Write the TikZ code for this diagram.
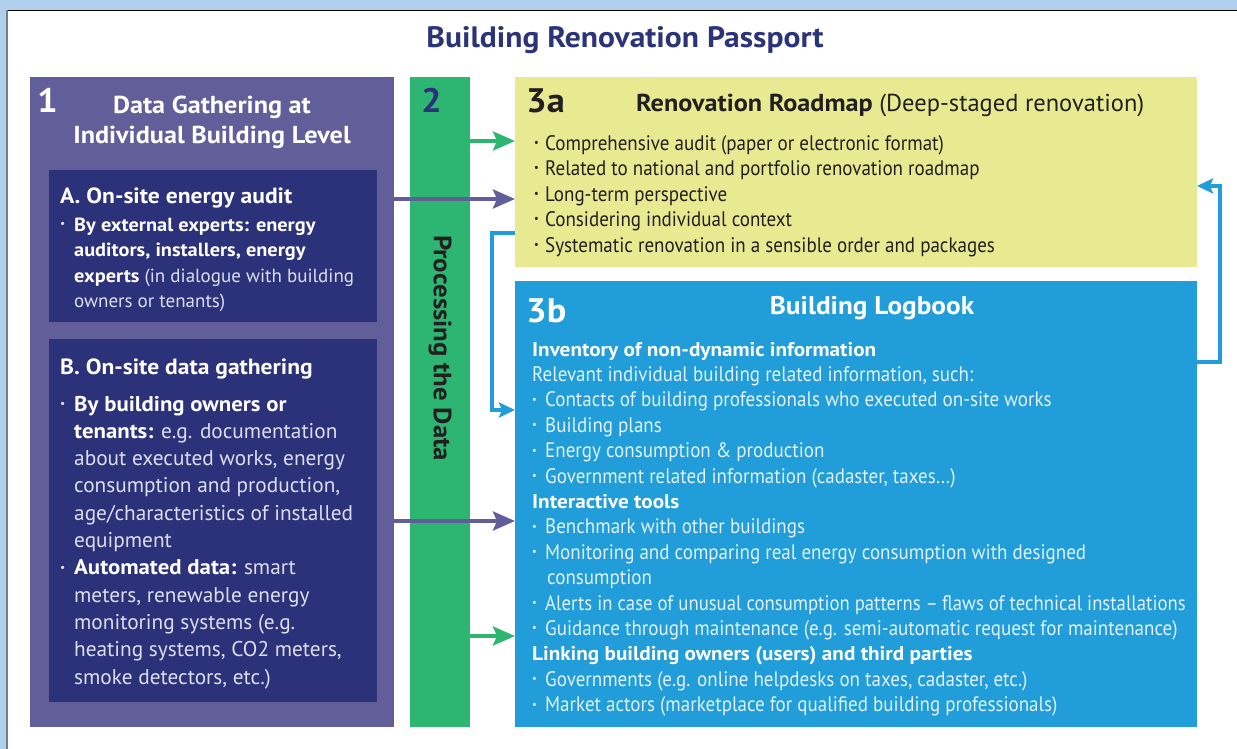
\documentclass[tikz,border=0pt]{standalone}
\usepackage{fontspec}
\setmainfont{PT Sans}[BoldFeatures={FakeStretch=1.07}]
\newfontfamily\condfont{PT Sans}[FakeStretch=0.905]
\usetikzlibrary{arrows.meta}

\definecolor{skyband}{HTML}{AFCFEC}
\definecolor{edgegray}{HTML}{6E7F91}
\definecolor{gatherpurple}{HTML}{625E9A}
\definecolor{auditnavy}{HTML}{2C327A}
\definecolor{procgreen}{HTML}{2DB572}
\definecolor{roadyellow}{HTML}{E8EA92}
\definecolor{logblue}{HTML}{219DD9}
\definecolor{titlenavy}{HTML}{2B3479}
\definecolor{paletext}{HTML}{DCDEEE}
\definecolor{paleblue}{HTML}{E2F1FA}
\definecolor{inkdark}{HTML}{231F20}

% bullet of a given width, text follows
\newcommand\bitem[1]{\makebox[#1][l]{\raisebox{0.17em}{\fontsize{11.5pt}{11.5pt}\selectfont\textbullet}}}
\newcommand\hl[1]{\textcolor{white}{\bfseries #1}}
% bold sub-heading inside the logbook list
\newcommand\loghead[1]{\textcolor{white}{\rmfamily\bfseries\fontsize{19.8pt}{25.4pt}\selectfont #1}}

\begin{document}
\begin{tikzpicture}[x=1pt,y=-1pt,
  panel/.style={anchor=north west, inner sep=0pt, outer sep=0pt},
  bigdigit/.style={anchor=base west, inner sep=0pt, font=\fontsize{34pt}{34pt}\selectfont\bfseries},
  txtblock/.style={anchor=base west, inner sep=0pt, align=left},
  purplearrow/.style={draw=gatherpurple, line width=4pt, -{Stealth[length=22pt,width=19pt,inset=4pt]}},
  greenarrow/.style={draw=procgreen, line width=4pt, -{Stealth[length=22pt,width=19pt,inset=4pt]}},
  bluelink/.style={draw=logblue, line width=3.5pt, -{Stealth[length=16pt,width=15pt,inset=3pt]}}
]
\useasboundingbox (0,0) rectangle (1237,749);

% page frame
\fill[skyband] (0,0) rectangle (1237,749);
\fill[white] (7,10) rectangle (1237,749);
\draw[black, line width=1.5pt] (6,10.5) -- (1237,10.5);
\draw[edgegray, line width=2pt] (6.5,10) -- (6.5,749);

% title
\node[anchor=base, inner sep=0pt, text=titlenavy, font=\fontsize{29.5pt}{29.5pt}\selectfont\bfseries] (title) at (625,48) {Building Renovation Passport};

% panels
\node[panel, fill=gatherpurple, minimum width=364pt, minimum height=650pt] (gather) at (30,77) {};
\node[panel, fill=auditnavy, minimum width=328pt, minimum height=152pt] (audit) at (49,170) {};
\node[panel, fill=auditnavy, minimum width=328pt, minimum height=363pt] (onsite) at (49,339) {};
\node[panel, fill=procgreen, minimum width=60pt, minimum height=650pt] (process) at (410,77) {};
\node[panel, fill=roadyellow, minimum width=682pt, minimum height=190pt] (roadmap) at (515,77) {};
\node[panel, fill=logblue, minimum width=682pt, minimum height=446pt] (logbook) at (515,281) {};

% panel 1 (multi-line blocks are placed by the baseline of their last line)
\node[bigdigit, text=white] (num1) at (37,113) {1};
\node[anchor=base, inner sep=0pt, align=center, text=white, font=\fontsize{24.5pt}{30pt}\selectfont\bfseries] (head1) at (212,143) {Data Gathering at\\Individual Building Level};

\node[txtblock, text=white, font=\fontsize{22pt}{22pt}\selectfont\bfseries] (headA) at (60,204) {A. On-site energy audit};
\node[txtblock, text=paletext, font=\fontsize{19pt}{25.5pt}\selectfont] (bodyA) at (60,307.5) {%
\bitem{14pt}\hl{By external experts: energy}\\
\hspace*{14pt}\hl{auditors, installers, energy}\\
\hspace*{14pt}\hl{experts} (in dialogue with building\\
\hspace*{14pt}owners or tenants)};

\node[txtblock, text=white, font=\fontsize{22pt}{22pt}\selectfont\bfseries] (headB) at (60,374) {B. On-site data gathering};
\node[txtblock, text=paletext, font=\fontsize{21.3pt}{27.3pt}\selectfont] (bodyB) at (60,684) {%
\bitem{14pt}\hl{By building owners or}\\
\hspace*{14pt}\hl{tenants:} e.g. documentation\\
\hspace*{14pt}about executed works, energy\\
\hspace*{14pt}consumption and production,\\
\hspace*{14pt}age/characteristics of installed\\
\hspace*{14pt}equipment\\
\bitem{14pt}\hl{Automated data:} smart\\
\hspace*{14pt}meters, renewable energy\\
\hspace*{14pt}monitoring systems (e.g.\\
\hspace*{14pt}heating systems, CO2 meters,\\
\hspace*{14pt}smoke detectors, etc.)};

% panel 2
\node[bigdigit, text=auditnavy] (num2) at (421,113) {2};
\node[inner sep=0pt, rotate=-90, text=inkdark, font=\fontsize{25pt}{25pt}\selectfont\bfseries] (proclabel) at (440,348) {Processing the Data};

% panel 3a
\node[bigdigit, text=inkdark] (num3a) at (526,113) {3a};
\node[txtblock, text=inkdark, font=\fontsize{24.5pt}{24pt}\selectfont] (head3a) at (636,112) {\textbf{Renovation Roadmap} (Deep-staged renovation)};
\node[txtblock, text=inkdark, font=\condfont\fontsize{21pt}{25.5pt}\selectfont] (body3a) at (534,252) {%
\bitem{11pt}Comprehensive audit (paper or electronic format)\\
\bitem{11pt}Related to national and portfolio renovation roadmap\\
\bitem{11pt}Long-term perspective\\
\bitem{11pt}Considering individual context\\
\bitem{11pt}Systematic renovation in a sensible order and packages};

% panel 3b
\node[bigdigit, text=white] (num3b) at (526,322) {3b};
\node[anchor=base, inner sep=0pt, text=white, font=\fontsize{25.5pt}{25pt}\selectfont\bfseries] (head3b) at (872,314) {Building Logbook};
\node[txtblock, text=paleblue, font=\condfont\fontsize{21pt}{25.4pt}\selectfont] (body3b) at (532,711.6) {%
\loghead{Inventory of non-dynamic information}\\
Relevant individual building related information, such:\\
\bitem{13pt}Contacts of building professionals who executed on-site works\\
\bitem{13pt}Building plans\\
\bitem{13pt}Energy consumption \& production\\
\bitem{13pt}Government related information (cadaster, taxes…)\\
\loghead{Interactive tools}\\
\bitem{13pt}Benchmark with other buildings\\
\bitem{13pt}Monitoring and comparing real energy consumption with designed\\
\hspace*{15pt}consumption\\
\bitem{13pt}\scalebox{0.985}[1]{Alerts in case of unusual consumption patterns –\kern-1pt\ flaws of technical installations}\\
\bitem{13pt}Guidance through maintenance (e.g. semi-automatic request for maintenance)\\
\loghead{Linking building owners (users) and third parties}\\
\bitem{13pt}Governments (e.g. online helpdesks on taxes, cadaster, etc.)\\
\bitem{13pt}Market actors (marketplace for qualified building professionals)};

% connector levels
\coordinate (lvGreenTop) at (0,141);
\coordinate (lvAudit) at (0,199);
\coordinate (lvOnsite) at (0,521);
\coordinate (lvGreenLow) at (0,636);
\coordinate (lvRoadOut) at (0,233);
\coordinate (lvLogIn) at (0,410);
\coordinate (lvLogOut) at (0,362);
\coordinate (lvRoadIn) at (0,186);
\coordinate (bendLeft) at (492,0);
\coordinate (bendRight) at (1220,0);

% connectors
\draw[greenarrow] (process.east |- lvGreenTop) -- (roadmap.west |- lvGreenTop);
\draw[purplearrow] (gather.east |- lvAudit) -- (roadmap.west |- lvAudit);
\draw[purplearrow] (gather.east |- lvOnsite) -- (logbook.west |- lvOnsite);
\draw[greenarrow] (process.east |- lvGreenLow) -- (logbook.west |- lvGreenLow);
\draw[bluelink] (roadmap.west |- lvRoadOut) -| (bendLeft |- lvLogIn) -- (logbook.west |- lvLogIn);
\draw[bluelink] (logbook.east |- lvLogOut) -| (bendRight |- lvRoadIn) -- (roadmap.east |- lvRoadIn);
\end{tikzpicture}
\end{document}
